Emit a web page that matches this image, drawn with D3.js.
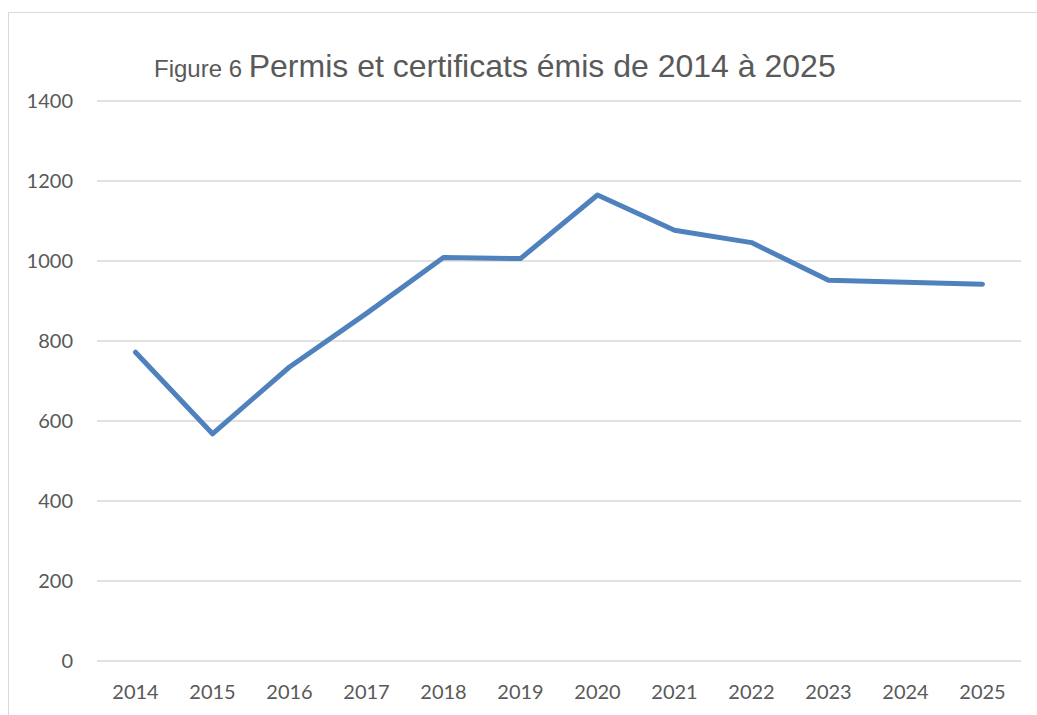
<!DOCTYPE html>
<html>
<head>
<meta charset="utf-8">
<script src="https://cdn.jsdelivr.net/npm/d3@7"></script>
<style>
  body { margin: 0; background: #fff; }
  svg { display: block; }
</style>
</head>
<body>
<div id="main"></div>
<script>
const years = ["2014", "2015", "2016", "2017", "2018", "2019", "2020", "2021", "2022", "2023", "2024", "2025"];
const permis = [772, 568, 735, 869, 1009, 1006, 1165, 1077, 1046, 952, 947, 942];
const yTicks = [0, 200, 400, 600, 800, 1000, 1200, 1400];

const ctx = {
    width: 1037,
    height: 715,
    margin: {top: 101, right: 16, bottom: 54, left: 97}
};
const innerW = ctx.width - ctx.margin.left - ctx.margin.right;
const innerH = ctx.height - ctx.margin.top - ctx.margin.bottom;

const svg = d3.select("#main").append("svg")
    .attr("width", ctx.width)
    .attr("height", ctx.height);

// chart area border (runs off the right/bottom edges)
svg.append("rect")
    .attr("x", 8.5).attr("y", 12.5)
    .attr("width", 1100).attr("height", 800)
    .attr("fill", "none")
    .attr("stroke", "#d9d9d9")
    .attr("stroke-width", 1);

// title
const title = svg.append("text")
    .attr("x", 154)
    .attr("y", 77)
    .attr("font-family", "'Liberation Sans', Arial, sans-serif")
    .attr("fill", "#595959");
title.append("tspan").attr("font-size", 24).text("Figure 6 ");
title.append("tspan").attr("font-size", 32).text("Permis et certificats émis de 2014 à 2025");

const chart = svg.append("g")
    .attr("transform", `translate(${ctx.margin.left},${ctx.margin.top})`);

const x = d3.scaleBand().domain(years).range([0, innerW]);
const y = d3.scaleLinear().domain([0, 1400]).range([innerH, 0]);

// gridlines
chart.append("g")
    .selectAll("line")
    .data(yTicks)
    .enter().append("line")
    .attr("x1", 0).attr("x2", innerW)
    .attr("y1", d => y(d)).attr("y2", d => y(d))
    .attr("stroke", "#d9d9d9")
    .attr("stroke-width", 1.5);

// y axis labels
const yAxis = chart.append("g")
    .call(d3.axisLeft(y).tickValues(yTicks).tickFormat(d3.format("d")).tickSize(0).tickPadding(24));
yAxis.select(".domain").remove();
yAxis.selectAll("text")
    .attr("font-family", "Lato, 'Open Sans', sans-serif")
    .attr("font-size", 20)
    .attr("fill", "#595959");

// x axis labels
const xAxis = chart.append("g")
    .attr("transform", `translate(0,${innerH})`)
    .call(d3.axisBottom(x).tickSize(0).tickPadding(24));
xAxis.select(".domain").remove();
xAxis.selectAll("text")
    .attr("font-family", "Lato, 'Open Sans', sans-serif")
    .attr("font-size", 20)
    .attr("fill", "#595959");

// line
const line = d3.line()
    .x((d, i) => x(years[i]) + x.bandwidth() / 2)
    .y(d => y(d));

chart.append("path")
    .datum(permis)
    .attr("d", line)
    .attr("fill", "none")
    .attr("stroke", "#4f81bd")
    .attr("stroke-width", 5)
    .attr("stroke-linejoin", "round")
    .attr("stroke-linecap", "round");
</script>
</body>
</html>
